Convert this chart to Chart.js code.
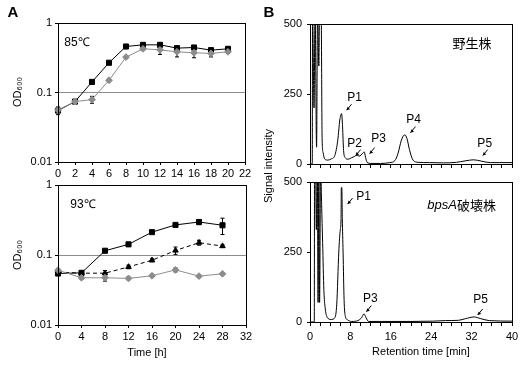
<!DOCTYPE html>
<html>
<head>
<meta charset="utf-8">
<script src="https://cdn.jsdelivr.net/npm/chart.js@4.4.1/dist/chart.umd.min.js"></script>
<style>
    body { margin: 0; background: #fff; }
    #wrap { position: relative; width: 529px; height: 370px; }
    #wrap canvas { position: absolute; left: 0; top: 0; }
</style>
</head>
<body>
<div id="wrap">
    <canvas id="growth85" width="529" height="370"></canvas>
    <canvas id="growth93" width="529" height="370"></canvas>
    <canvas id="hplcWild" width="529" height="370"></canvas>
    <canvas id="hplcMutant" width="529" height="370"></canvas>
</div>
<script>
// --- growth curves (panel A) ---
const odTicks = [0.01, 0.1, 1];

const hours85 = [0, 2, 4, 6, 8, 10, 12, 14, 16, 18, 20];
const od85Black = [0.055, 0.074, 0.142, 0.268, 0.459, 0.485, 0.485, 0.435, 0.444, 0.407, 0.425];
const od85Gray = [0.056, 0.074, 0.079, 0.150, 0.323, 0.425, 0.411, 0.385, 0.373, 0.365, 0.385];
const err85Black = [0.007, 0.003, 0.005, 0.01, 0.01, 0.01, 0.02, 0.02, 0.02, 0.015, 0.015];
const err85Gray = [0.004, 0.003, 0.009, 0.008, 0.01, 0.02, 0.058, 0.06, 0.057, 0.04, 0.02];

const hours93 = [0, 4, 8, 12, 16, 20, 24, 28];
const od93Black = [0.0544, 0.0556, 0.115, 0.142, 0.212, 0.269, 0.296, 0.266];
const od93Tri = [0.057, 0.055, 0.055, 0.0676, 0.0841, 0.116, 0.150, 0.134];
const od93Gray = [0.0607, 0.0473, 0.0473, 0.0463, 0.0505, 0.0613, 0.0499, 0.0539];
const err93Black = [0.003, 0.003, 0.004, 0.006, 0.008, 0.01, 0.025, 0.07];
const err93Tri = [0.003, 0.003, 0.005, 0.004, 0.004, 0.014, 0.012, 0.006];
const err93Gray = [0.003, 0.002, 0.005, 0.002, 0.002, 0.004, 0.002, 0.002];

// --- HPLC traces (panel B) ---
const signalTicks = [0, 250, 500];

const timeWild = [0, 0.45, 0.5, 0.8, 1.0, 1.3, 1.5, 1.75, 1.9, 2.2, 2.4, 2.6, 2.9, 3.5, 4.2, 4.9, 5.5, 5.9,
    6.25, 6.45, 6.65, 7.0, 7.5, 8.2, 8.8, 9.3, 9.7, 10.1, 10.5, 10.75, 11.0, 11.3, 12.1, 14, 15.8, 16.8,
    17.4, 18.1, 18.75, 19.2, 19.7, 20.4, 21.4, 23.7, 26.4, 29, 30.7, 32.4, 34, 35.7, 37.6, 40];
const signalWild = [0, 0, 560, 200, 560, 60, 560, 350, 560, 560, 90, 40, 18, 14, 18, 30, 85, 157,
    180, 133, 48, 22, 17, 22, 27, 32, 28, 32, 40, 43, 24, 6, 2, 2, 5, 12,
    36, 85, 104, 91, 51, 14, 6, 5, 4, 6, 11, 15, 10, 5, 5, 5];

const timeMutant = [0, 0.85, 0.9, 1.1, 1.25, 1.45, 1.6, 1.75, 1.9, 2.1, 2.3, 2.5, 2.75, 3.0, 3.4, 4.2,
    4.9, 5.3, 5.7, 6.0, 6.15, 6.2, 6.3, 6.4, 6.55, 6.75, 7.0, 7.4, 8.2, 9.5, 10.2, 10.7, 11.1, 11.6,
    14.1, 20, 24.3, 26.8, 29.4, 30.8, 32.5, 33.8, 35.5, 40];
const signalMutant = [0, 0, 560, 560, 330, 560, 70, 560, 70, 560, 420, 284, 113, 51, 17, 9,
    15, 64, 250, 330, 370, 480, 480, 370, 250, 80, 20, 8, 2, 5, 15, 29, 15, 2,
    2, 2, 3, 5, 6, 12, 18, 12, 5, 3];

const peaksWild = [
    { text: 'P1', t: 7.24, v: 192 },
    { text: 'P2', t: 9.03, v: 30 },
    { text: 'P3', t: 11.8, v: 37 },
    { text: 'P4', t: 19.9, v: 112 },
    { text: 'P5', t: 34.2, v: 30 }
];
const peaksMutant = [
    { text: 'P1', t: 7.44, v: 421 },
    { text: 'P3', t: 11.15, v: 37 },
    { text: 'P5', t: 33.2, v: 25 }
];

const FONT = '"Liberation Sans", Arial, sans-serif';
const GRAY = '#8c8c8c';
Chart.defaults.font.family = FONT;
Chart.defaults.font.size = 11;
Chart.defaults.color = '#000';

// free text (panel letters, titles, labels)
const textPlugin = {
    id: 'panelText',
    afterDraw(chart, args, opts) {
        const ctx = chart.ctx;
        (opts.items || []).forEach(it => {
            ctx.save();
            ctx.font = it.font || ('11px ' + FONT);
            ctx.fillStyle = '#000';
            ctx.textAlign = it.align || 'center';
            ctx.textBaseline = 'middle';
            ctx.translate(it.x, it.y);
            if (it.rotate) ctx.rotate(it.rotate);
            ctx.fillText(it.text, 0, 0);
            ctx.restore();
        });
    }
};

// frame around the plot area
const boxPlugin = {
    id: 'plotBox',
    afterDatasetsDraw(chart) {
        const a = chart.chartArea, ctx = chart.ctx;
        ctx.save();
        ctx.strokeStyle = '#000';
        ctx.lineWidth = 1;
        ctx.strokeRect(Math.round(a.left) + 0.5, Math.round(a.top) + 0.5,
            Math.round(a.right - a.left), Math.round(a.bottom - a.top));
        ctx.restore();
    }
};

// vertical error bars from dataset.errorBars
const errorPlugin = {
    id: 'errorBars',
    beforeDatasetsDraw(chart) {
        const ctx = chart.ctx, ys = chart.scales.y;
        chart.data.datasets.forEach((ds, i) => {
            if (!ds.errorBars) return;
            const meta = chart.getDatasetMeta(i);
            ctx.save();
            ctx.strokeStyle = '#000';
            ctx.lineWidth = 1;
            meta.data.forEach((pt, j) => {
                const val = ds.data[j].y, e = ds.errorBars[j];
                const top = ys.getPixelForValue(val + e);
                const bot = ys.getPixelForValue(Math.max(val - e, 0.0101));
                ctx.beginPath();
                ctx.moveTo(pt.x, top); ctx.lineTo(pt.x, bot);
                ctx.moveTo(pt.x - 2, top); ctx.lineTo(pt.x + 2, top);
                ctx.moveTo(pt.x - 2, bot); ctx.lineTo(pt.x + 2, bot);
                ctx.stroke();
            });
            ctx.restore();
        });
    }
};

// peak labels with little arrows
const peakPlugin = {
    id: 'peakLabels',
    afterDatasetsDraw(chart, args, opts) {
        const ctx = chart.ctx, xs = chart.scales.x, ys = chart.scales.y;
        (opts.items || []).forEach((p, k) => {
            const off = (opts.offsets || [])[k] || [5, -13];
            const x = xs.getPixelForValue(p.t), y = ys.getPixelForValue(p.v);
            ctx.save();
            ctx.strokeStyle = '#000';
            ctx.fillStyle = '#000';
            ctx.lineWidth = 1;
            ctx.beginPath();
            ctx.moveTo(x + 5, y - 6);
            ctx.lineTo(x, y);
            ctx.stroke();
            ctx.beginPath();
            ctx.moveTo(x, y);
            ctx.lineTo(x + 3.5, y - 1);
            ctx.lineTo(x + 1, y - 3.5);
            ctx.closePath();
            ctx.fill();
            ctx.font = '12px ' + FONT;
            ctx.textAlign = 'center';
            ctx.textBaseline = 'middle';
            ctx.fillText(p.text, x + off[0], y + off[1]);
            ctx.restore();
        });
    }
};

const plugins = [textPlugin, boxPlugin, errorPlugin, peakPlugin];

function points(xs, ys) {
    return xs.map((x, i) => ({ x: x, y: ys[i] }));
}

function odAxis() {
    return {
        type: 'logarithmic', min: 0.01, max: 1,
        afterBuildTicks: s => { s.ticks = odTicks.map(v => ({ value: v })); },
        afterFit: s => { s.width = 58; },
        ticks: { callback: v => String(v), padding: 3 },
        grid: {
            color: c => (c.tick && c.tick.value === 0.1) ? GRAY : 'rgba(0,0,0,0)',
            tickColor: '#000', tickLength: 3
        },
        border: { display: false }
    };
}

function timeAxis(max, step, height) {
    return {
        type: 'linear', min: 0, max: max,
        afterFit: s => { s.height = height; },
        ticks: { stepSize: step, autoSkip: false, maxRotation: 0, padding: 2 },
        grid: { drawOnChartArea: false, color: '#000', tickLength: 3 },
        border: { display: false }
    };
}

function blackSeries(data, err, style) {
    return {
        data: data, errorBars: err, borderColor: '#000', backgroundColor: '#000',
        borderWidth: 1, pointStyle: style || 'rect', pointRadius: 3.6,
        pointBorderWidth: 1, tension: 0, clip: false
    };
}

function graySeries(data, err) {
    return {
        data: data, errorBars: err, borderColor: GRAY, backgroundColor: GRAY,
        borderWidth: 1, pointStyle: 'rectRot', pointRadius: 3.4,
        pointBorderWidth: 1, tension: 0, clip: false
    };
}

const common = {
    responsive: false,
    animation: false,
    events: []
};

new Chart(document.getElementById('growth85'), {
    type: 'line',
    data: {
        datasets: [
            graySeries(points(hours85, od85Gray), err85Gray),
            blackSeries(points(hours85, od85Black), err85Black)
        ]
    },
    options: Object.assign({}, common, {
        layout: { padding: { left: 0, top: 23, right: 284, bottom: 188 } },
        scales: { x: timeAxis(22, 2, 20), y: odAxis() },
        plugins: {
            legend: { display: false }, tooltip: { enabled: false },
            panelText: {
                items: [
                    { text: 'A', x: 13, y: 13, font: 'bold 15px ' + FONT },
                    { text: '85℃', x: 77, y: 43, font: '12px ' + FONT },
                    { text: 'OD₆₀₀', x: 18, y: 92, rotate: -Math.PI / 2 }
                ]
            }
        }
    }),
    plugins: plugins
});

new Chart(document.getElementById('growth93'), {
    type: 'line',
    data: {
        datasets: [
            graySeries(points(hours93, od93Gray), err93Gray),
            Object.assign(blackSeries(points(hours93, od93Tri), err93Tri, 'triangle'),
                { borderDash: [4, 3], pointRadius: 3.2 }),
            blackSeries(points(hours93, od93Black), err93Black)
        ]
    },
    options: Object.assign({}, common, {
        layout: { padding: { left: 0, top: 185, right: 283, bottom: 30 } },
        scales: { x: timeAxis(32, 4, 15), y: odAxis() },
        plugins: {
            legend: { display: false }, tooltip: { enabled: false },
            panelText: {
                items: [
                    { text: '93℃', x: 83, y: 205, font: '12px ' + FONT },
                    { text: 'OD₆₀₀', x: 18, y: 255, rotate: -Math.PI / 2 },
                    { text: 'Time [h]', x: 147, y: 353 }
                ]
            }
        }
    }),
    plugins: plugins
});

function signalAxis() {
    return {
        type: 'linear', min: 0, max: 500,
        afterBuildTicks: s => { s.ticks = signalTicks.map(v => ({ value: v })); },
        afterFit: s => { s.width = 50; },
        ticks: { padding: 5 },
        grid: { drawOnChartArea: false, color: '#000', tickLength: 3 },
        border: { display: false }
    };
}

function retentionAxis(showLabels, height) {
    return {
        type: 'linear', min: 0, max: 40,
        afterFit: s => { s.height = height; },
        ticks: {
            stepSize: 2, autoSkip: false, maxRotation: 0, padding: 4,
            callback: v => (showLabels && v % 8 === 0) ? String(v) : ''
        },
        grid: { drawOnChartArea: false, color: '#000', tickLength: 4 },
        border: { display: false }
    };
}

function trace(xs, ys) {
    return {
        data: points(xs, ys), borderColor: '#000', borderWidth: 1,
        pointRadius: 0, cubicInterpolationMode: 'monotone'
    };
}

new Chart(document.getElementById('hplcWild'), {
    type: 'line',
    data: { datasets: [trace(timeWild, signalWild)] },
    options: Object.assign({}, common, {
        layout: { padding: { left: 260, top: 24, right: 17, bottom: 200 } },
        scales: { x: retentionAxis(false, 6), y: signalAxis() },
        plugins: {
            legend: { display: false }, tooltip: { enabled: false },
            peakLabels: {
                items: peaksWild,
                offsets: [[8, -13], [-1, -12], [9, -15], [3, -13], [2, -12]]
            },
            panelText: {
                items: [
                    { text: 'B', x: 269, y: 13, font: 'bold 15px ' + FONT },
                    { text: '野生株', x: 472, y: 43, font: '13px "Noto Sans CJK JP", sans-serif' },
                    { text: 'Signal intensity', x: 269, y: 166, rotate: -Math.PI / 2 }
                ]
            }
        }
    }),
    plugins: plugins
});

new Chart(document.getElementById('hplcMutant'), {
    type: 'line',
    data: { datasets: [trace(timeMutant, signalMutant)] },
    options: Object.assign({}, common, {
        layout: { padding: { left: 260, top: 182, right: 17, bottom: 28 } },
        scales: { x: retentionAxis(true, 20), y: signalAxis() },
        plugins: {
            legend: { display: false }, tooltip: { enabled: false },
            peakLabels: {
                items: peaksMutant,
                offsets: [[16, -7], [4, -13], [3, -15]]
            },
            panelText: {
                items: [
                    { text: 'bpsA', x: 457, y: 205, align: 'right', font: 'italic 13px ' + FONT },
                    { text: '破壊株', x: 457, y: 205, align: 'left', font: '13px "Noto Sans CJK JP", sans-serif' },
                    { text: 'Retention time [min]', x: 421, y: 352 }
                ]
            }
        }
    }),
    plugins: plugins
});
</script>
</body>
</html>
